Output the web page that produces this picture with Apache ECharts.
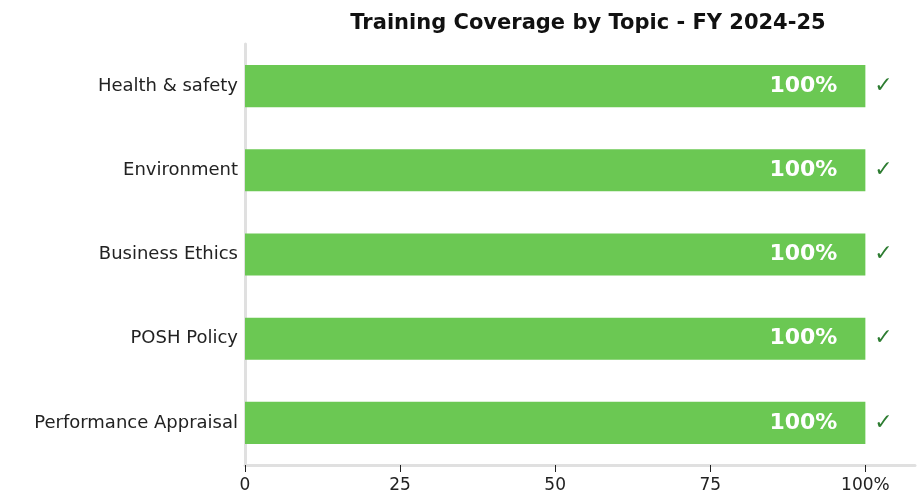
<!DOCTYPE html>
<html>
<head>
<meta charset="utf-8">
<script src="https://cdn.jsdelivr.net/npm/echarts@6/dist/echarts.min.js"></script>
<style>
  html, body { margin: 0; padding: 0; background: #fff; }
  #chart { width: 921px; height: 492px; }
</style>
</head>
<body>
<div id="chart"></div>
<script>
// 培训主题
var topics = ['Health & safety', 'Environment', 'Business Ethics', 'POSH Policy', 'Performance Appraisal'];
// 覆盖率 %
var coverage = [100, 100, 100, 100, 100];
// x轴刻度
var xTicks = [0, 25, 50, 75, 100];

var FONT = '"DejaVu Sans", sans-serif';

var Chart = echarts.init(document.getElementById('chart'));
Chart.setOption({
    animation: false,
    title: {
        text: 'Training Coverage by Topic - FY 2024-25',
        left: 583,
        textAlign: 'center',
        top: 8,
        textStyle: { fontFamily: FONT, fontSize: 21, fontWeight: 'bold', color: '#111' }
    },
    grid: { left: 245, right: 6, top: 44, bottom: 27, outerBoundsMode: 'none' },
    xAxis: {
        type: 'value',
        min: 0,
        max: 108,
        splitLine: { show: false },
        axisLine: { show: true, lineStyle: { color: '#e0e0e0', width: 3 } },
        axisTick: { show: true, customValues: xTicks, length: 7, lineStyle: { color: '#222', width: 1 } },
        axisLabel: {
            customValues: xTicks,
            fontFamily: FONT, fontSize: 17, color: '#222', margin: 12,
            formatter: function (v) { return v === 100 ? '100%' : String(v); }
        }
    },
    yAxis: {
        type: 'category',
        inverse: true,
        data: topics,
        axisLine: { show: true, lineStyle: { color: '#e0e0e0', width: 3 } },
        axisTick: { show: false },
        axisLabel: { fontFamily: FONT, fontSize: 18, color: '#222', margin: 7 }
    },
    series: [
        {
            type: 'bar',
            data: coverage,
            barWidth: '50%',
            itemStyle: { color: '#6BC853' },
            label: {
                show: true,
                position: 'insideRight',
                distance: 28,
                formatter: '{c}%',
                fontFamily: FONT, fontSize: 22, fontWeight: 'bold', color: '#fff'
            }
        },
        {
            type: 'bar',
            data: coverage,
            barWidth: '50%',
            barGap: '-100%',
            itemStyle: { color: 'transparent' },
            silent: true,
            label: {
                show: true,
                position: 'right',
                distance: 9,
                formatter: '✓',
                fontFamily: FONT, fontSize: 22, fontWeight: 'bold', color: '#2E7D32'
            }
        }
    ]
});
</script>
</body>
</html>
